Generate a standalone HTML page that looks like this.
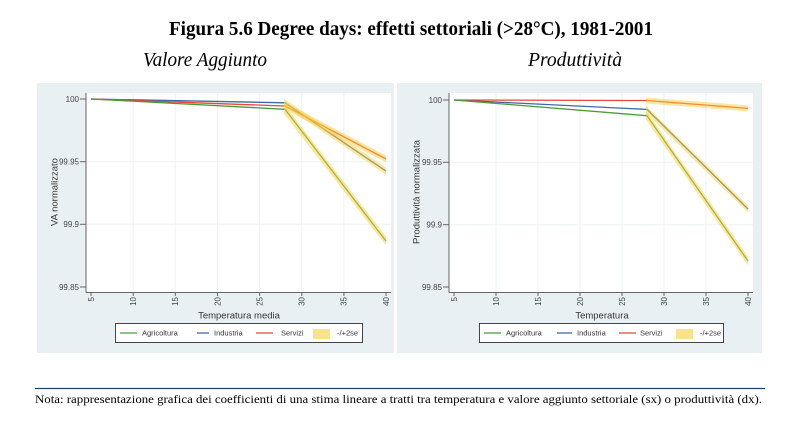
<!DOCTYPE html>
<html><head><meta charset="utf-8"><style>
html,body{margin:0;padding:0;background:#fff;}
svg{display:block;}
</style></head><body>
<svg width="800" height="427" viewBox="0 0 800 427" xmlns="http://www.w3.org/2000/svg">
<rect x="0" y="0" width="800" height="427" fill="#ffffff"/>
<!-- Title -->
<text x="169" y="35" font-family="Liberation Serif, serif" font-weight="bold" font-size="20" fill="#000" textLength="484" lengthAdjust="spacingAndGlyphs">Figura 5.6 Degree days: effetti settoriali (&gt;28°C), 1981-2001</text>
<text x="143" y="66" font-family="Liberation Serif, serif" font-style="italic" font-size="20" fill="#000" textLength="124" lengthAdjust="spacingAndGlyphs">Valore Aggiunto</text>
<text x="528" y="66" font-family="Liberation Serif, serif" font-style="italic" font-size="20" fill="#000" textLength="94" lengthAdjust="spacingAndGlyphs">Produttività</text>

<!-- LEFT PANEL -->
<rect x="37" y="83" width="357" height="270" fill="#e9f0f3"/>
<rect x="86" y="93" width="305" height="199" fill="#ffffff"/>
<g stroke="#eef3f5" stroke-width="1">
<line x1="133.2" y1="93" x2="133.2" y2="292"/><line x1="175.3" y1="93" x2="175.3" y2="292"/>
<line x1="217.5" y1="93" x2="217.5" y2="292"/><line x1="259.6" y1="93" x2="259.6" y2="292"/>
<line x1="301.8" y1="93" x2="301.8" y2="292"/><line x1="343.9" y1="93" x2="343.9" y2="292"/>
<line x1="86" y1="161.7" x2="391" y2="161.7"/><line x1="86" y1="224.3" x2="391" y2="224.3"/>
</g>
<g stroke="#666" stroke-width="1" fill="none">
<line x1="86" y1="93" x2="86" y2="292.5"/><line x1="86" y1="292.5" x2="391" y2="292.5"/>
<line x1="80" y1="99" x2="86" y2="99"/><line x1="80" y1="161.7" x2="86" y2="161.7"/>
<line x1="80" y1="224.3" x2="86" y2="224.3"/><line x1="80" y1="287" x2="86" y2="287"/>
<line x1="91" y1="292" x2="91" y2="296"/><line x1="133.2" y1="292" x2="133.2" y2="296"/>
<line x1="175.3" y1="292" x2="175.3" y2="296"/><line x1="217.5" y1="292" x2="217.5" y2="296"/>
<line x1="259.6" y1="292" x2="259.6" y2="296"/><line x1="301.8" y1="292" x2="301.8" y2="296"/>
<line x1="343.9" y1="292" x2="343.9" y2="296"/><line x1="386" y1="292" x2="386" y2="296"/>
</g>
<g font-family="Liberation Sans, sans-serif" font-size="8" fill="#444" text-anchor="end">
<text x="79" y="101.8">100</text><text x="79" y="164.5">99.95</text>
<text x="79" y="227.1">99.9</text><text x="79" y="289.8">99.85</text>
</g>
<g font-family="Liberation Sans, sans-serif" font-size="8" fill="#444" text-anchor="end">
<text transform="translate(93.8,297) rotate(-90)">5</text>
<text transform="translate(136,297) rotate(-90)">10</text>
<text transform="translate(178.1,297) rotate(-90)">15</text>
<text transform="translate(220.3,297) rotate(-90)">20</text>
<text transform="translate(262.4,297) rotate(-90)">25</text>
<text transform="translate(304.6,297) rotate(-90)">30</text>
<text transform="translate(346.7,297) rotate(-90)">35</text>
<text transform="translate(388.8,297) rotate(-90)">40</text>
</g>
<text x="239" y="318.5" font-family="Liberation Sans, sans-serif" font-size="9.5" fill="#333" text-anchor="middle">Temperatura media</text>
<text transform="translate(57.5,192) rotate(-90)" font-family="Liberation Sans, sans-serif" font-size="9.5" fill="#333" text-anchor="middle">VA normalizzato</text>
<!-- series -->
<g fill="none" stroke-width="1.3" stroke-linejoin="round">
<polyline points="91,99 285,102.8 386,171.1" stroke="#3f6aa0"/>
<polyline points="91,99 285,106 386,159" stroke="#e8453c"/>
<polyline points="91,99 285,109.3 386,241" stroke="#4a9a3c"/>
</g>
<g fill="#f7cf3f" fill-opacity="0.5">
<polygon points="284,104.3 386,236.5 386,245.5 284,113.8"/>
<polygon points="284,98.8 386,167.6 386,174.6 284,105.8"/>
<polygon points="284,102 386,155.5 386,162.5 284,109"/>
</g>
<!-- legend -->
<rect x="115.5" y="323.5" width="247" height="19" fill="#fff" stroke="#444" stroke-width="1"/>
<line x1="120" y1="333" x2="137" y2="333" stroke="#4a9a3c" stroke-width="1.3"/>
<line x1="197" y1="333" x2="209" y2="333" stroke="#3f6aa0" stroke-width="1.3"/>
<line x1="256" y1="333" x2="273" y2="333" stroke="#e8453c" stroke-width="1.3"/>
<rect x="313" y="329" width="17" height="10" fill="#f7cf3f" fill-opacity="0.6"/>
<g font-family="Liberation Sans, sans-serif" font-size="7.5" fill="#333">
<text x="142" y="335.7">Agricoltura</text>
<text x="214" y="335.7">Industria</text>
<text x="281" y="335.7">Servizi</text>
<text x="337" y="335.7">-/+2se</text>
</g>

<!-- RIGHT PANEL -->
<rect x="397" y="83" width="365" height="270" fill="#e9f0f3"/>
<rect x="449" y="93" width="304" height="199" fill="#ffffff"/>
<g stroke="#eef3f5" stroke-width="1">
<line x1="496" y1="93" x2="496" y2="292"/><line x1="538" y1="93" x2="538" y2="292"/>
<line x1="580" y1="93" x2="580" y2="292"/><line x1="622" y1="93" x2="622" y2="292"/>
<line x1="664" y1="93" x2="664" y2="292"/><line x1="706" y1="93" x2="706" y2="292"/>
<line x1="449" y1="162.3" x2="753" y2="162.3"/><line x1="449" y1="224.7" x2="753" y2="224.7"/>
</g>
<g stroke="#666" stroke-width="1" fill="none">
<line x1="449" y1="93" x2="449" y2="292.5"/><line x1="449" y1="292.5" x2="753" y2="292.5"/>
<line x1="443" y1="100" x2="449" y2="100"/><line x1="443" y1="162.3" x2="449" y2="162.3"/>
<line x1="443" y1="224.7" x2="449" y2="224.7"/><line x1="443" y1="287" x2="449" y2="287"/>
<line x1="454" y1="292" x2="454" y2="296"/><line x1="496" y1="292" x2="496" y2="296"/>
<line x1="538" y1="292" x2="538" y2="296"/><line x1="580" y1="292" x2="580" y2="296"/>
<line x1="622" y1="292" x2="622" y2="296"/><line x1="664" y1="292" x2="664" y2="296"/>
<line x1="706" y1="292" x2="706" y2="296"/><line x1="748" y1="292" x2="748" y2="296"/>
</g>
<g font-family="Liberation Sans, sans-serif" font-size="8" fill="#444" text-anchor="end">
<text x="442" y="102.8">100</text><text x="442" y="165.1">99.95</text>
<text x="442" y="227.5">99.9</text><text x="442" y="289.8">99.85</text>
</g>
<g font-family="Liberation Sans, sans-serif" font-size="8" fill="#444" text-anchor="end">
<text transform="translate(456.8,297) rotate(-90)">5</text>
<text transform="translate(498.8,297) rotate(-90)">10</text>
<text transform="translate(540.8,297) rotate(-90)">15</text>
<text transform="translate(582.8,297) rotate(-90)">20</text>
<text transform="translate(624.8,297) rotate(-90)">25</text>
<text transform="translate(666.8,297) rotate(-90)">30</text>
<text transform="translate(708.8,297) rotate(-90)">35</text>
<text transform="translate(750.8,297) rotate(-90)">40</text>
</g>
<text x="602" y="318.5" font-family="Liberation Sans, sans-serif" font-size="9.5" fill="#333" text-anchor="middle">Temperatura</text>
<text transform="translate(419.5,192) rotate(-90)" font-family="Liberation Sans, sans-serif" font-size="9.5" fill="#333" text-anchor="middle">Produttività normalizzata</text>
<g fill="none" stroke-width="1.3" stroke-linejoin="round">
<polyline points="454,100 647,109.4 748,209" stroke="#3f6aa0"/>
<polyline points="454,100 647,100.5 748,108.4" stroke="#e8453c"/>
<polyline points="454,100 647,115.7 748,261" stroke="#4a9a3c"/>
</g>
<g fill="#f7cf3f" fill-opacity="0.5">
<polygon points="646,110.7 748,256.5 748,265.5 646,119.7"/>
<polygon points="646,105.8 748,205.5 748,212.5 646,112.8"/>
<polygon points="646,97.5 748,105.4 748,111.4 646,103.5"/>
</g>
<rect x="479.5" y="323.5" width="244" height="19" fill="#fff" stroke="#444" stroke-width="1"/>
<line x1="484" y1="333" x2="501" y2="333" stroke="#4a9a3c" stroke-width="1.3"/>
<line x1="557" y1="333" x2="572" y2="333" stroke="#3f6aa0" stroke-width="1.3"/>
<line x1="619" y1="333" x2="636" y2="333" stroke="#e8453c" stroke-width="1.3"/>
<rect x="676" y="329" width="17" height="10" fill="#f7cf3f" fill-opacity="0.6"/>
<g font-family="Liberation Sans, sans-serif" font-size="7.5" fill="#333">
<text x="506" y="335.7">Agricoltura</text>
<text x="577" y="335.7">Industria</text>
<text x="640" y="335.7">Servizi</text>
<text x="700" y="335.7">-/+2se</text>
</g>

<!-- Note -->
<line x1="35" y1="388.5" x2="765" y2="388.5" stroke="#24406e" stroke-width="1.2"/>
<text x="35" y="403" font-family="Liberation Serif, serif" font-size="12" fill="#000" textLength="727" lengthAdjust="spacingAndGlyphs">Nota: rappresentazione grafica dei coefficienti di una stima lineare a tratti tra temperatura e valore aggiunto settoriale (sx) o produttività (dx).</text>
</svg>
</body></html>
